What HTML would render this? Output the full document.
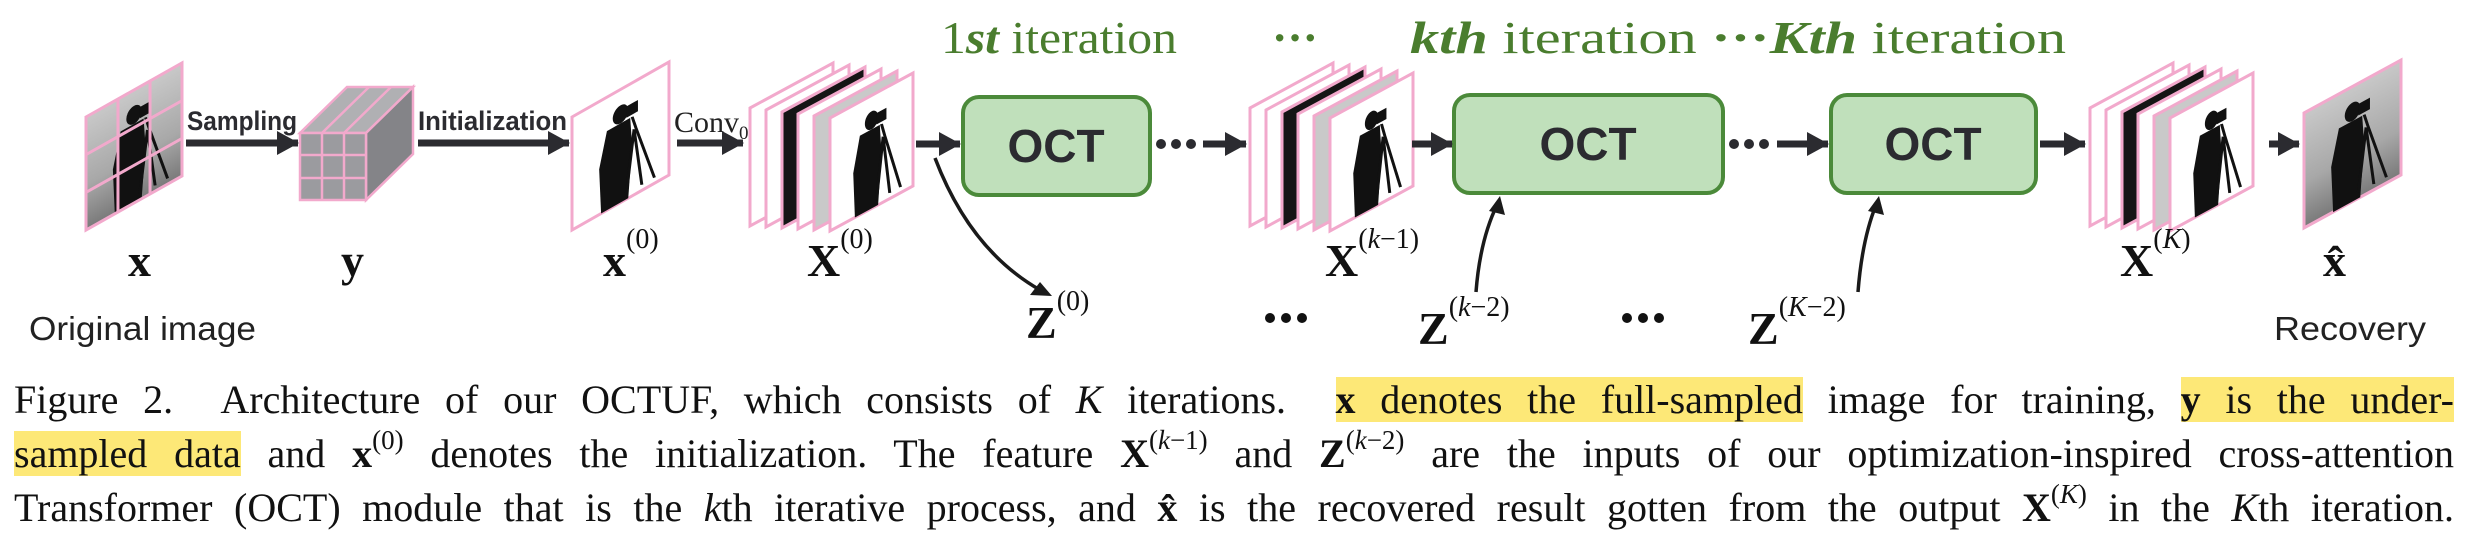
<!DOCTYPE html>
<html><head><meta charset="utf-8">
<style>
html,body{margin:0;padding:0;background:#fff;}
body{width:2471px;height:542px;position:relative;overflow:hidden;}
#diagram{position:absolute;left:0;top:0;}
.cap{position:absolute;left:14px;width:2440px;font-family:"Liberation Serif",serif;font-size:40px;color:#111;text-align:justify;text-align-last:justify;white-space:nowrap;line-height:54px;}
.hl{background:#fde877;}
.cap sup{font-size:27px;line-height:0;vertical-align:18px;}
b.m{font-weight:bold;}
</style></head>
<body>
<svg id="diagram" width="2471" height="370" viewBox="0 0 2471 370" xmlns="http://www.w3.org/2000/svg">
<defs>
 <marker id="ah" markerWidth="24" markerHeight="26" refX="21" refY="12" orient="auto" markerUnits="userSpaceOnUse"><path d="M0,0 L22,12 L0,24 Z" fill="#2b2b30"/></marker>
 <linearGradient id="gimg" x1="0" y1="0" x2="0" y2="1"><stop offset="0" stop-color="#c8c8c8"/><stop offset="0.6" stop-color="#a8a8a8"/><stop offset="1" stop-color="#7a7a7a"/></linearGradient>
 <g id="man">
  <circle cx="0.5" cy="0.22" r="0.08" fill="#111"/>
  <path d="M0.36,0.3 L0.6,0.3 L0.62,0.55 L0.58,1 L0.3,1 L0.28,0.6 Z" fill="#111"/>
  <path d="M0.62,0.3 L0.66,0.42 L0.85,0.95 M0.64,0.42 L0.72,0.95 M0.64,0.42 L0.56,0.95" stroke="#111" stroke-width="3" vector-effect="non-scaling-stroke" fill="none"/>
  <rect x="0.56" y="0.18" width="0.12" height="0.1" fill="#111"/>
 </g>
</defs>

<text x="941" y="53" font-family="Liberation Serif,serif" font-size="46" fill="#4a7d2e" textLength="236" lengthAdjust="spacingAndGlyphs">1<tspan font-style="italic" font-weight="bold">st</tspan> iteration</text>
<text x="1272" y="53" font-family="Liberation Serif,serif" font-size="46" font-weight="bold" fill="#4a7d2e">···</text>
<text x="1410" y="53" font-family="Liberation Serif,serif" font-size="46" fill="#4a7d2e" textLength="656" lengthAdjust="spacingAndGlyphs"><tspan font-style="italic" font-weight="bold">kth</tspan> iteration <tspan font-weight="bold">···</tspan><tspan font-style="italic" font-weight="bold">Kth</tspan> iteration</text>

<g>
 <g transform="matrix(96,-54,0,113,86,117)">
  <rect x="0" y="0" width="1" height="1" fill="url(#gimg)"/>
  <use href="#man"/>
  <path d="M0.333,0 V1 M0.667,0 V1 M0,0.333 H1 M0,0.667 H1" stroke="#f2a9cc" stroke-width="3" vector-effect="non-scaling-stroke"/>
  <rect x="0" y="0" width="1" height="1" fill="none" stroke="#f2a9cc" stroke-width="3" vector-effect="non-scaling-stroke"/>
 </g>
</g>

<text x="187" y="130" font-family="Liberation Sans,sans-serif" font-weight="bold" font-size="27" fill="#2b2b30" textLength="110" lengthAdjust="spacingAndGlyphs">Sampling</text>
<line x1="186" y1="143" x2="298" y2="143" stroke="#2b2b30" stroke-width="7" marker-end="url(#ah)"/>

<g stroke="#f2a9cc" stroke-width="2.5">
 <polygon points="300,133 347,87 413,87 366,133" fill="#b0b0b3"/>
 <polygon points="366,133 413,87 413,154 366,200" fill="#848488"/>
 <rect x="300" y="133" width="66" height="67" fill="#9b9b9f"/>
 <path d="M322,133 V200 M344,133 V200 M300,155 H366 M300,178 H366 M322,133 L369,87 M344,133 L391,87" fill="none"/>
</g>

<text x="418" y="130" font-family="Liberation Sans,sans-serif" font-weight="bold" font-size="27" fill="#2b2b30" textLength="149" lengthAdjust="spacingAndGlyphs">Initialization</text>
<line x1="418" y1="143" x2="569" y2="143" stroke="#2b2b30" stroke-width="7" marker-end="url(#ah)"/>

<g transform="matrix(97,-55,0,113,572,117)">
 <rect x="0" y="0" width="1" height="1" fill="#fff" stroke="#f2a9cc" stroke-width="3" vector-effect="non-scaling-stroke"/>
 <use href="#man"/>
</g>

<text x="674" y="132" font-family="Liberation Serif,serif" font-size="30" fill="#222">Conv<tspan font-size="19" dy="7">0</tspan></text>
<line x1="677" y1="143" x2="743" y2="143" stroke="#2b2b30" stroke-width="7" marker-end="url(#ah)"/>

<g id="stacks"></g>

<g>
 <rect x="963" y="97" width="187" height="98" rx="16" fill="#c0e0bb" stroke="#4b8a3a" stroke-width="4"/>
 <text x="1056" y="162" text-anchor="middle" font-family="Liberation Sans,sans-serif" font-weight="bold" font-size="46" fill="#2b2b30">OCT</text>
</g>
<g>
 <rect x="1454" y="95" width="269" height="98" rx="16" fill="#c0e0bb" stroke="#4b8a3a" stroke-width="4"/>
 <text x="1588" y="160" text-anchor="middle" font-family="Liberation Sans,sans-serif" font-weight="bold" font-size="46" fill="#2b2b30">OCT</text>
</g>
<g>
 <rect x="1831" y="95" width="205" height="98" rx="16" fill="#c0e0bb" stroke="#4b8a3a" stroke-width="4"/>
 <text x="1933" y="160" text-anchor="middle" font-family="Liberation Sans,sans-serif" font-weight="bold" font-size="46" fill="#2b2b30">OCT</text>
</g>

<g stroke="#2b2b30" stroke-width="7" fill="none">
 <line x1="916" y1="144" x2="960" y2="144" marker-end="url(#ah)"/>
 <line x1="1203" y1="144" x2="1246" y2="144" marker-end="url(#ah)"/>
 <line x1="1412" y1="144" x2="1452" y2="144" marker-end="url(#ah)"/>
 <line x1="1777" y1="144" x2="1828" y2="144" marker-end="url(#ah)"/>
 <line x1="2040" y1="144" x2="2085" y2="144" marker-end="url(#ah)"/>
 <line x1="2269" y1="144" x2="2299" y2="144" marker-end="url(#ah)"/>
</g>
<g fill="#2b2b30">
 <circle cx="1161" cy="144" r="5"/><circle cx="1176" cy="144" r="5"/><circle cx="1191" cy="144" r="5"/>
 <circle cx="1734" cy="144" r="5"/><circle cx="1749" cy="144" r="5"/><circle cx="1764" cy="144" r="5"/>
</g>

<g transform="matrix(97,-53,0,115,2304,113)">
 <rect x="0" y="0" width="1" height="1" fill="url(#gimg)" stroke="#f2a9cc" stroke-width="3" vector-effect="non-scaling-stroke"/>
 <use href="#man"/>
</g>

<g stroke="#1a1a1a" stroke-width="3.5" fill="none">
 <path d="M935,158 Q970,250 1040,290"/>
 <path d="M1476,292 Q1480,240 1497,205"/>
 <path d="M1858,292 Q1862,240 1876,205"/>
</g>
<g fill="#1a1a1a">
 <polygon points="1052,296 1030,295 1040,282"/>
 <polygon points="1500,196 1505,215 1489,211"/>
 <polygon points="1879,196 1884,215 1868,211"/>
</g>

<g font-family="Liberation Serif,serif" font-weight="bold" fill="#111" font-size="46">
 <text x="128" y="276">x</text>
 <text x="341" y="276">y</text>
 <text x="603" y="276">x<tspan font-weight="normal" font-size="28" dy="-28">(0)</tspan></text>
 <text x="807" y="276">X<tspan font-weight="normal" font-size="28" dy="-28">(0)</tspan></text>
 <text x="1325" y="276">X<tspan font-weight="normal" font-size="28" dy="-28">(<tspan font-style="italic">k</tspan>−1)</tspan></text>
 <text x="2120" y="276">X<tspan font-weight="normal" font-size="28" dy="-28">(<tspan font-style="italic">K</tspan>)</tspan></text>
 <text x="2323" y="276">x̂</text>
 <text x="1026" y="338">Z<tspan font-weight="normal" font-size="28" dy="-28">(0)</tspan></text>
 <text x="1418" y="344">Z<tspan font-weight="normal" font-size="28" dy="-28">(<tspan font-style="italic">k</tspan>−2)</tspan></text>
 <text x="1748" y="344">Z<tspan font-weight="normal" font-size="28" dy="-28">(<tspan font-style="italic">K</tspan>−2)</tspan></text>
</g>
<g fill="#111">
 <circle cx="1270" cy="318" r="5"/><circle cx="1286" cy="318" r="5"/><circle cx="1302" cy="318" r="5"/>
 <circle cx="1627" cy="318" r="5"/><circle cx="1643" cy="318" r="5"/><circle cx="1659" cy="318" r="5"/>
</g>
<text x="29" y="340" font-family="Liberation Sans,sans-serif" font-size="33" fill="#222" textLength="227" lengthAdjust="spacingAndGlyphs">Original image</text>
<text x="2274" y="340" font-family="Liberation Sans,sans-serif" font-size="33" fill="#222" textLength="152" lengthAdjust="spacingAndGlyphs">Recovery</text>
</svg>

<div class="cap" style="top:373px;">Figure 2.&nbsp; Architecture of our OCTUF, which consists of <i>K</i> iterations.&nbsp; <span class="hl"><b class="m">x</b> denotes the full-sampled</span> image for training, <span class="hl"><b class="m">y</b> is the under-</span></div>
<div class="cap" style="top:427px;"><span class="hl">sampled data</span> and <b class="m">x</b><sup>(0)</sup> denotes the initialization. The feature <b class="m">X</b><sup>(<i>k</i>−1)</sup> and <b class="m">Z</b><sup>(<i>k</i>−2)</sup> are the inputs of our optimization-inspired cross-attention</div>
<div class="cap" style="top:481px;">Transformer (OCT) module that is the <i>k</i>th iterative process, and <b class="m">x̂</b> is the recovered result gotten from the output <b class="m">X</b><sup>(<i>K</i>)</sup> in the <i>K</i>th iteration.</div>

<script>
const NS='http://www.w3.org/2000/svg';
const stackStarts=[750,1250,2090];
const stackNames=['stack-X0','stack-Xk1','stack-XK'];
const layerKinds=['grid','white','black','white','gray','man'];
const g=document.getElementById('stacks');
stackStarts.forEach(function(x0,si){
  const sg=document.createElementNS(NS,'g');
  
  
  layerKinds.forEach(function(kind,i){
    const L=x0+i*16, W=83, s=45, top=108+i*2, h=118-i*1;
    const lg=document.createElementNS(NS,'g');
    
    
    lg.setAttribute('transform','matrix('+W+','+(-s)+',0,'+h+','+L+','+top+')');
    const r=document.createElementNS(NS,'rect');
    r.setAttribute('x',0);r.setAttribute('y',0);r.setAttribute('width',1);r.setAttribute('height',1);
    r.setAttribute('fill',kind==='black'?'#151515':(kind==='gray'?'#c9c9c9':'#fff'));
    r.setAttribute('stroke','#f2a9cc');r.setAttribute('stroke-width',3);
    r.setAttribute('vector-effect','non-scaling-stroke');
    lg.appendChild(r);
    if(kind==='man'||kind==='gray'){
      const u=document.createElementNS(NS,'use');
      u.setAttribute('href','#man');
      lg.appendChild(u);
    }
    sg.appendChild(lg);
  });
  g.appendChild(sg);
});
</script>
</body></html>
